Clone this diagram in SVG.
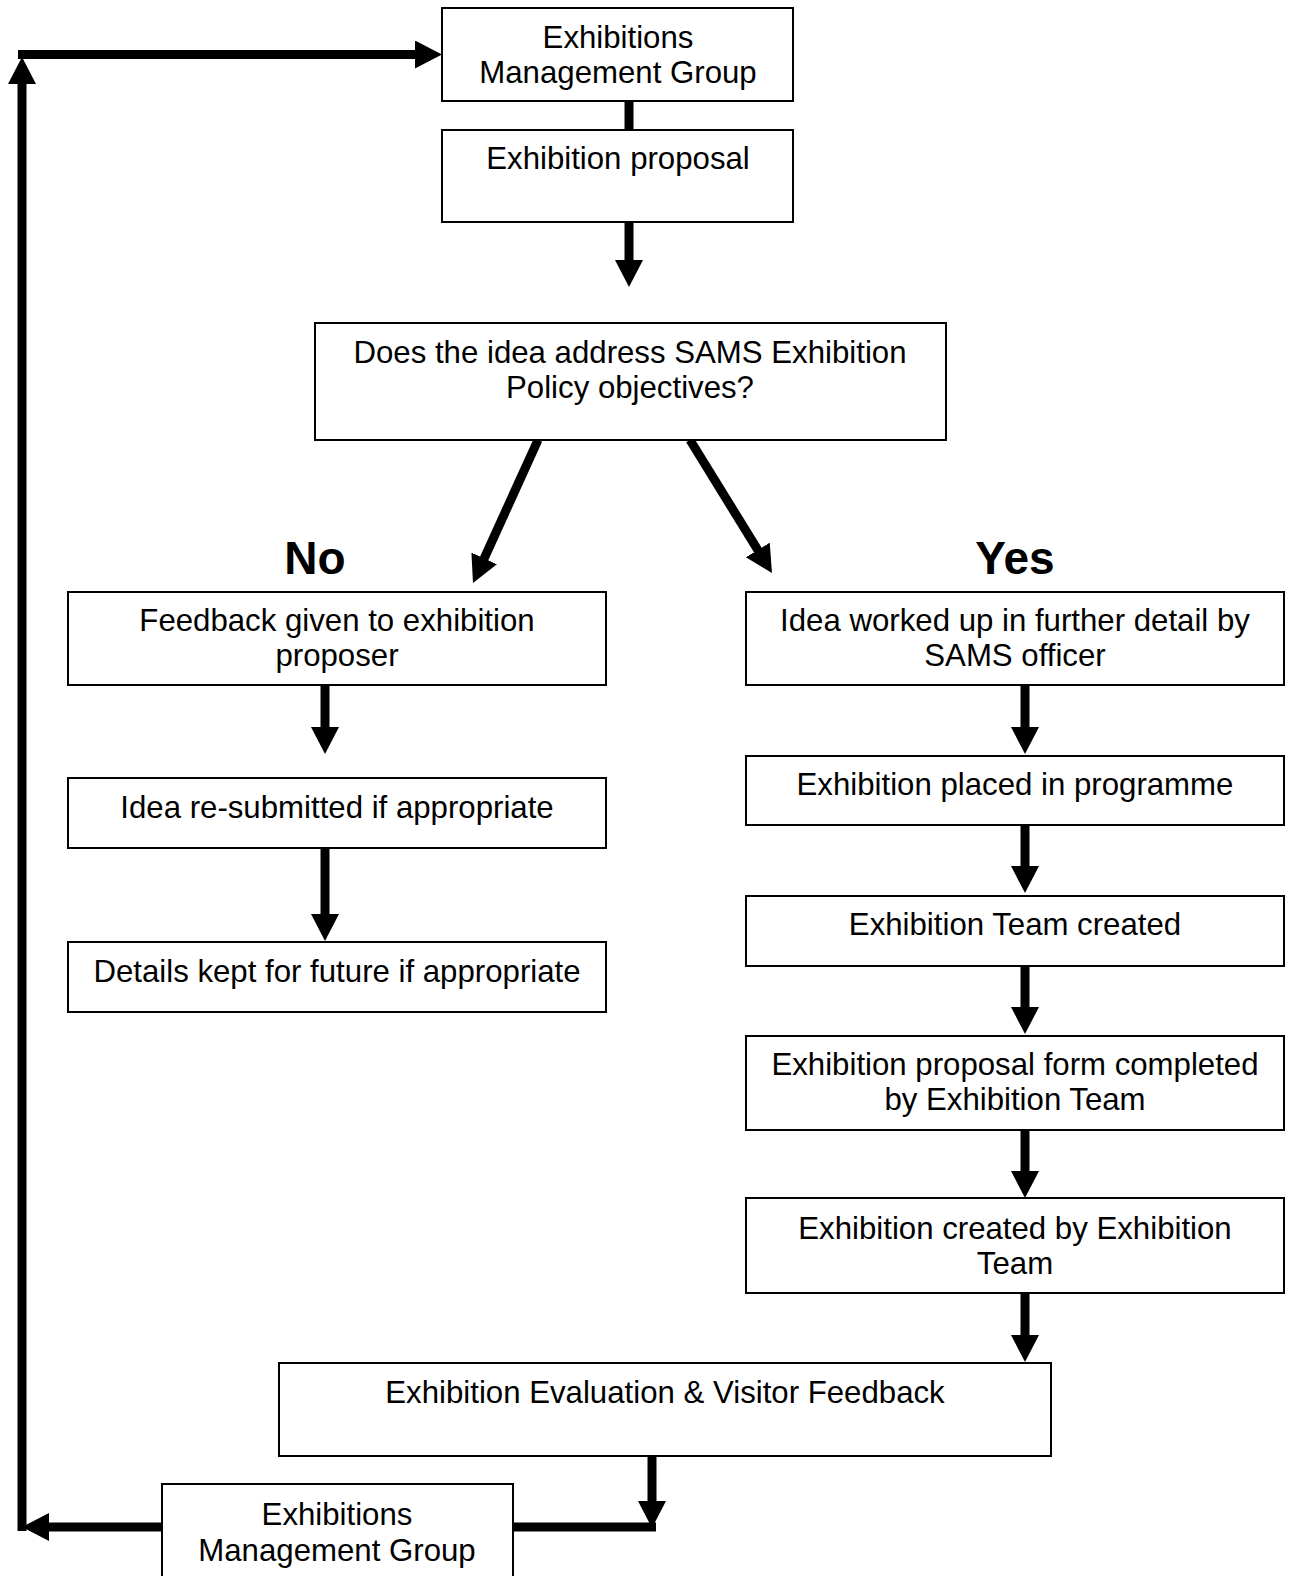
<svg xmlns="http://www.w3.org/2000/svg" width="1291" height="1576" viewBox="0 0 1291 1576">
<style>
.box{fill:#fff;stroke:#000;stroke-width:2}
.t{font-family:"Liberation Sans",Arial,sans-serif;font-size:31.2px;fill:#000;text-anchor:middle}
.lbl{font-family:"Liberation Sans",Arial,sans-serif;font-size:46px;font-weight:bold;fill:#000;text-anchor:middle}
.c{fill:none;stroke:#000;stroke-width:9;stroke-linecap:butt}
.a{marker-end:url(#ah)}
</style>
<defs>
<marker id="ah" markerUnits="userSpaceOnUse" markerWidth="30" markerHeight="30" refX="12" refY="14" orient="auto">
<path d="M0,0 L27,14 L0,28 z" fill="#000"/>
</marker>
</defs>
<rect width="1291" height="1576" fill="#fff"/>
<g id="connectors">
<path class="c" d="M629,101 V130"/>
<path class="c a" d="M629,222 V272"/>
<path class="c a" d="M538,440 L479.2,569.3"/>
<path class="c a" d="M690,440 L764.1,560.2"/>
<path class="c a" d="M325,685 V739"/>
<path class="c a" d="M325,848 V926"/>
<path class="c a" d="M1025,685 V739"/>
<path class="c a" d="M1025,825 V878"/>
<path class="c a" d="M1025,966 V1019"/>
<path class="c a" d="M1025,1130 V1183"/>
<path class="c a" d="M1025,1293 V1347"/>
<path class="c a" d="M652,1456 V1513"/>
<path class="c" d="M513,1527 H656"/>
<path class="c a" d="M162,1527 H37"/>
<path class="c a" d="M22,1531 V72"/>
<path class="c a" d="M18,54.5 H427"/>
</g>
<g id="emg-top">
<rect class="box" x="442" y="8" width="351" height="93"/>
<text class="t" x="618" y="48">Exhibitions</text>
<text class="t" x="618" y="83">Management Group</text>
</g>
<g id="proposal">
<rect class="box" x="442" y="130" width="351" height="92"/>
<text class="t" x="618" y="169">Exhibition proposal</text>
</g>
<g id="decision">
<rect class="box" x="315" y="323" width="631" height="117"/>
<text class="t" x="630" y="363">Does the idea address SAMS Exhibition</text>
<text class="t" x="630" y="398">Policy objectives?</text>
</g>
<g id="label-no"><text class="lbl" x="315" y="574">No</text></g>
<g id="label-yes"><text class="lbl" x="1015" y="574">Yes</text></g>
<g id="feedback">
<rect class="box" x="68" y="592" width="538" height="93"/>
<text class="t" x="337" y="631">Feedback given to exhibition</text>
<text class="t" x="337" y="666">proposer</text>
</g>
<g id="resubmitted">
<rect class="box" x="68" y="778" width="538" height="70"/>
<text class="t" x="337" y="818">Idea re-submitted if appropriate</text>
</g>
<g id="details">
<rect class="box" x="68" y="942" width="538" height="70"/>
<text class="t" x="337" y="982">Details kept for future if appropriate</text>
</g>
<g id="worked-up">
<rect class="box" x="746" y="592" width="538" height="93"/>
<text class="t" x="1015" y="631">Idea worked up in further detail by</text>
<text class="t" x="1015" y="666">SAMS officer</text>
</g>
<g id="programme">
<rect class="box" x="746" y="756" width="538" height="69"/>
<text class="t" x="1015" y="795">Exhibition placed in programme</text>
</g>
<g id="team">
<rect class="box" x="746" y="896" width="538" height="70"/>
<text class="t" x="1015" y="935">Exhibition Team created</text>
</g>
<g id="form">
<rect class="box" x="746" y="1036" width="538" height="94"/>
<text class="t" x="1015" y="1075">Exhibition proposal form completed</text>
<text class="t" x="1015" y="1110">by Exhibition Team</text>
</g>
<g id="created">
<rect class="box" x="746" y="1198" width="538" height="95"/>
<text class="t" x="1015" y="1239">Exhibition created by Exhibition</text>
<text class="t" x="1015" y="1274">Team</text>
</g>
<g id="evaluation">
<rect class="box" x="279" y="1363" width="772" height="93"/>
<text class="t" x="665" y="1403">Exhibition Evaluation &amp; Visitor Feedback</text>
</g>
<g id="emg-bottom">
<rect class="box" x="162" y="1484" width="351" height="110"/>
<text class="t" x="337" y="1525">Exhibitions</text>
<text class="t" x="337" y="1561">Management Group</text>
</g>
</svg>
